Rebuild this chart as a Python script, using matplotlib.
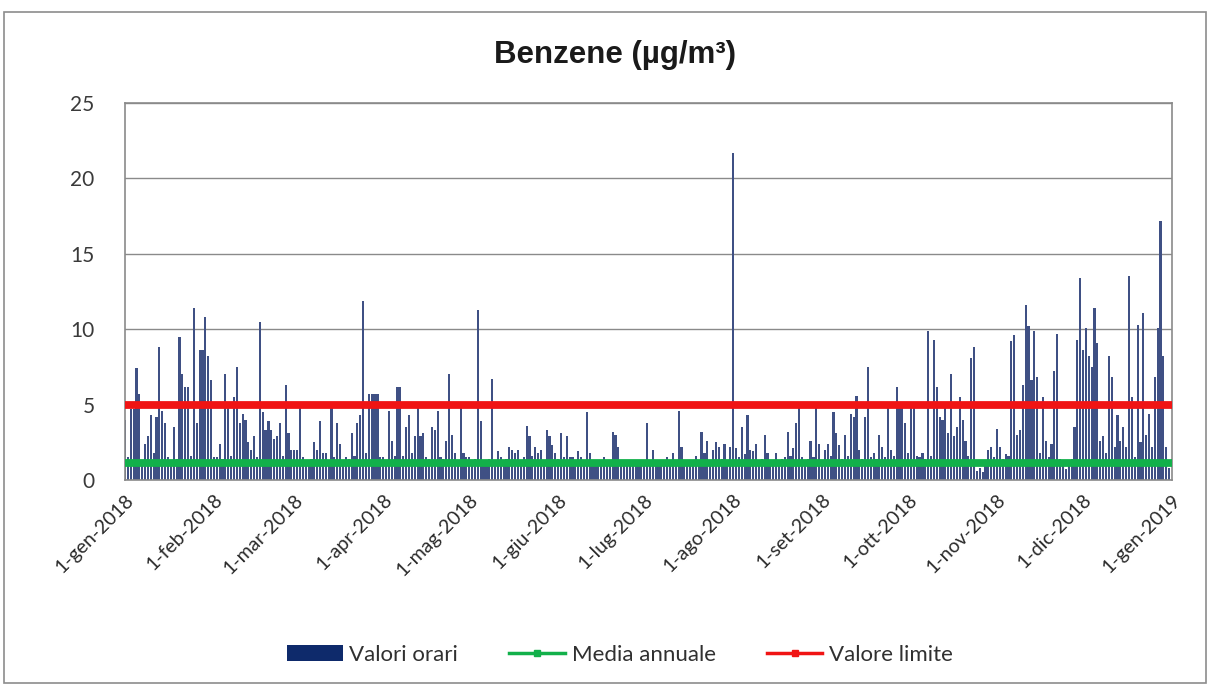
import matplotlib
matplotlib.use("Agg")
import matplotlib.pyplot as plt
from matplotlib.patches import Rectangle
from matplotlib.lines import Line2D
import pandas as pd

# ---- data (daily peak of hourly benzene values, µg/m3) ----
gen = [4.0,1.5,4.7,4.7,7.4,5.7,1.3,2.4,2.9,4.3,1.8,4.2,8.8,4.6,3.8,1.5,1.3,3.5,1.4,9.5,7.0,6.2,6.2,1.6,11.4,3.8,8.6,8.6,10.8,8.2,6.6]
feb = [1.5,1.5,2.4,1.4,7.0,4.9,1.6,5.5,7.5,3.8,4.4,4.0,2.5,2.0,2.9,1.5,10.5,4.5,3.3,3.9,3.3,2.7,2.9,3.8,1.6,6.3,3.1,2.0]
mar = [2.0,2.0,4.9,1.5,1.3,1.2,1.4,2.5,2.0,3.9,1.8,1.8,1.3,4.8,1.5,3.8,2.4,1.3,1.5,1.4,3.1,1.6,3.8,4.3,11.9,1.8,5.7,5.7,5.7,5.7,1.5]
apr = [1.5,1.3,4.6,2.6,1.6,6.2,6.2,1.6,3.5,4.3,1.8,2.9,4.8,2.9,3.1,1.5,1.4,3.5,3.3,4.6,1.5,1.4,2.6,7.0,3.0,1.8,1.3,4.9,1.8,1.5]
mag = [1.5,1.3,1.4,11.3,3.9,1.3,1.2,1.4,6.7,1.3,1.9,1.5,1.2,1.4,2.2,2.0,1.8,2.0,1.3,1.5,3.6,2.9,1.6,2.2,1.8,2.0,1.3,3.3,2.9,2.3,1.8]
giu = [1.4,3.1,1.5,2.9,1.5,1.5,1.3,1.9,1.5,1.3,4.5,1.8,1.2,1.1,1.1,1.2,1.5,1.2,1.3,3.2,3.0,2.2,1.1,1.2,1.1,1.0,1.1,1.1,1.0,1.3]
lug = [1.2,3.8,1.3,2.0,1.2,1.0,1.1,1.2,1.5,1.3,1.8,1.2,4.6,2.2,1.1,1.0,0.9,1.2,1.6,1.3,3.2,1.8,2.6,1.3,2.0,2.5,2.2,1.4,2.4,1.3,2.2]
ago = [21.7,2.1,1.5,3.5,1.7,4.3,2.0,1.9,2.4,1.3,1.4,3.0,1.8,1.3,1.2,1.8,1.3,1.4,1.5,3.2,1.6,2.1,3.8,5.0,1.5,1.3,1.4,2.6,1.5,4.9,2.4]
sett = [1.3,2.0,2.4,1.6,4.5,3.1,2.3,1.4,3.0,1.6,4.4,4.2,5.6,2.0,1.4,4.2,7.5,1.5,1.8,1.4,3.0,2.2,1.5,4.9,2.0,1.6,6.2,4.9,5.0,3.8]
ott = [1.8,4.8,4.8,1.6,1.5,1.8,1.4,9.9,1.6,9.3,6.2,4.2,4.0,4.9,3.1,7.0,2.9,3.5,5.5,4.0,2.6,1.6,8.1,8.8,0.6,0.8,0.5,1.3,2.0,2.2,1.5]
nov = [3.4,2.2,1.4,1.7,1.6,9.2,9.6,3.0,3.3,6.3,11.6,10.2,6.6,9.9,6.8,1.8,5.5,2.6,1.5,2.4,7.2,9.7,1.4,1.2,0.7,1.3,1.4,3.5,9.3,13.4]
dic = [8.6,10.1,8.2,7.5,11.4,9.1,2.6,2.9,1.8,8.2,6.8,2.2,4.3,2.6,3.5,2.2,13.5,5.5,1.5,10.3,2.5,11.1,3.0,4.4,2.2,6.8,10.1,17.2,8.2,2.2,0.8]

valori_orari = gen + feb + mar + apr + mag + giu + lug + ago + sett + ott + nov + dic
media_annuale = 1.1
valore_limite = 5.0

tick_dates = ["2018-01-01","2018-02-01","2018-03-01","2018-04-01","2018-05-01","2018-06-01",
              "2018-07-01","2018-08-01","2018-09-01","2018-10-01","2018-11-01","2018-12-01","2019-01-01"]
tick_labels = ["1-gen-2018","1-feb-2018","1-mar-2018","1-apr-2018","1-mag-2018","1-giu-2018",
               "1-lug-2018","1-ago-2018","1-set-2018","1-ott-2018","1-nov-2018","1-dic-2018","1-gen-2019"]
y_ticks = [0, 5, 10, 15, 20, 25]

title = "Benzene (µg/m³)"
legend_labels = ["Valori orari", "Media annuale", "Valore limite"]

# ---- figure ----
W, H = 1209, 685
fig = plt.figure(figsize=(W/100, H/100), dpi=100)
fig.patch.set_facecolor("white")

# outer chart border
fig.patches.append(Rectangle((4/W, 1 - 683/H), (1206-4)/W, (683-12)/H,
                             transform=fig.transFigure, fill=False,
                             edgecolor="#8c8c8c", linewidth=1.2))

ax = fig.add_axes([125/W, 1 - 480/H, (1172-125)/W, (480-103)/H])

dates = pd.date_range("2018-01-01", periods=len(valori_orari), freq="D")
bar_color = "#3f5084"
ax.bar(dates, valori_orari, width=0.75, color=bar_color, linewidth=0, zorder=2)

start = pd.Timestamp("2018-01-01")
end = pd.Timestamp("2019-01-01")
ax.plot([start, end], [media_annuale, media_annuale], color="#12b04a", linewidth=5.6,
        solid_capstyle="butt", zorder=3)
ax.plot([start, end], [valore_limite, valore_limite], color="#f01414", linewidth=5.6,
        solid_capstyle="butt", zorder=3)

ax.set_xlim(start, end)
ax.set_ylim(0, 25)
ax.set_yticks(y_ticks)
ax.set_yticklabels([str(v) for v in y_ticks])
ax.yaxis.grid(True, color="#8a8a8a", linewidth=1.0, zorder=0)
ax.set_axisbelow(True)

ax.set_xticks([pd.Timestamp(d) for d in tick_dates])
ax.set_xticklabels(tick_labels, rotation=45, ha="right", va="top",
                   rotation_mode="anchor")

tick_font = "Lato"
for lbl in ax.get_yticklabels():
    lbl.set_fontfamily(tick_font)
    lbl.set_fontsize(15)
    lbl.set_color("#3a3a3a")
for lbl in ax.get_xticklabels():
    lbl.set_fontfamily(tick_font)
    lbl.set_fontsize(14)
    lbl.set_color("#2a2a2a")

ax.tick_params(axis="y", length=0, pad=22)
ax.tick_params(axis="x", length=0, pad=8)
for s in ax.spines.values():
    s.set_color("#8a8a8a")
    s.set_linewidth(1.2)

fig.text(615/W, 1 - 55/H, title, ha="center", va="center",
         fontsize=22.5, fontweight="bold", family="Liberation Sans", color="#1a1a1a")

handles = [
    Rectangle((0, 0), 1, 1, facecolor="#0e2a6b", edgecolor="none"),
    Line2D([], [], color="#12b04a", linewidth=2.5, marker="s", markersize=4),
    Line2D([], [], color="#f01414", linewidth=2.5, marker="s", markersize=4),
]
leg = fig.legend(handles, legend_labels, loc="center", bbox_to_anchor=(620/W, 1 - 655/H),
                 ncol=3, frameon=False, handlelength=2.5, handleheight=0.7,
                 columnspacing=2.3, handletextpad=0.3,
                 prop={"family": tick_font, "size": 16})
for t in leg.get_texts():
    t.set_color("#303030")

fig.savefig("out.png", dpi=100)
